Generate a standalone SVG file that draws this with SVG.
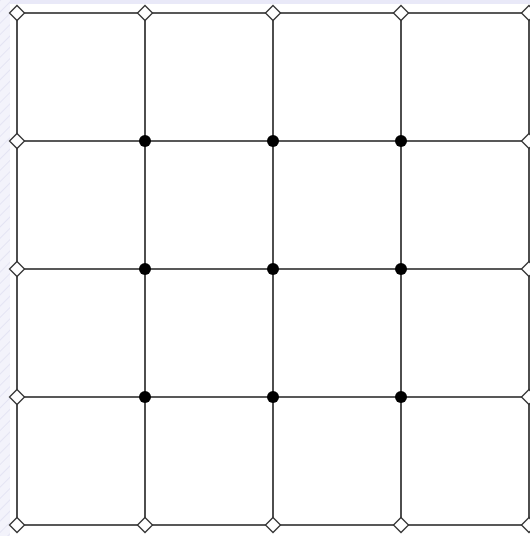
<svg xmlns="http://www.w3.org/2000/svg" width="530" height="536" viewBox="0 0 530 536">
<style>
.ln{stroke:#222;stroke-width:1.6;fill:none}
.dm{fill:#fff;stroke:#333;stroke-width:1.3}
.dt{fill:#000}
</style>
<defs>
<pattern id="st" width="8" height="8" patternUnits="userSpaceOnUse" patternTransform="rotate(45)">
<rect width="8" height="8" fill="#F3F3FB"/>
<line x1="0" y1="0" x2="0" y2="8" stroke="#E4E4F3" stroke-width="2"/>
</pattern>
<polygon id="d" points="0,-7.5 7.5,0 0,7.5 -7.5,0"/>
</defs>
<rect width="530" height="536" fill="#fff"/>
<rect x="0" y="0" width="10" height="536" fill="url(#st)"/>
<rect x="10" y="0" width="520" height="4" fill="#E9E9F8"/>
<g id="connectors">
<path class="ln" d="M17,13H529M17,141H529M17,269H529M17,397H529M17,525H529M17,13V525M145,13V525M273,13V525M401,13V525M529,13V525"/>
</g>
<g id="n_t0"><use href="#d" class="dm" x="17" y="13"/></g>
<g id="n_t1"><use href="#d" class="dm" x="145" y="13"/></g>
<g id="n_t2"><use href="#d" class="dm" x="273" y="13"/></g>
<g id="n_t3"><use href="#d" class="dm" x="401" y="13"/></g>
<g id="n_t4"><use href="#d" class="dm" x="529" y="13"/></g>
<g id="n_b0"><use href="#d" class="dm" x="17" y="525"/></g>
<g id="n_b1"><use href="#d" class="dm" x="145" y="525"/></g>
<g id="n_b2"><use href="#d" class="dm" x="273" y="525"/></g>
<g id="n_b3"><use href="#d" class="dm" x="401" y="525"/></g>
<g id="n_b4"><use href="#d" class="dm" x="529" y="525"/></g>
<g id="n_l1"><use href="#d" class="dm" x="17" y="141"/></g>
<g id="n_l2"><use href="#d" class="dm" x="17" y="269"/></g>
<g id="n_l3"><use href="#d" class="dm" x="17" y="397"/></g>
<g id="n_r1"><use href="#d" class="dm" x="529" y="141"/></g>
<g id="n_r2"><use href="#d" class="dm" x="529" y="269"/></g>
<g id="n_r3"><use href="#d" class="dm" x="529" y="397"/></g>
<g id="n_11"><circle class="dt" cx="145" cy="141" r="6"/></g>
<g id="n_12"><circle class="dt" cx="273" cy="141" r="6"/></g>
<g id="n_13"><circle class="dt" cx="401" cy="141" r="6"/></g>
<g id="n_21"><circle class="dt" cx="145" cy="269" r="6"/></g>
<g id="n_22"><circle class="dt" cx="273" cy="269" r="6"/></g>
<g id="n_23"><circle class="dt" cx="401" cy="269" r="6"/></g>
<g id="n_31"><circle class="dt" cx="145" cy="397" r="6"/></g>
<g id="n_32"><circle class="dt" cx="273" cy="397" r="6"/></g>
<g id="n_33"><circle class="dt" cx="401" cy="397" r="6"/></g>
</svg>
